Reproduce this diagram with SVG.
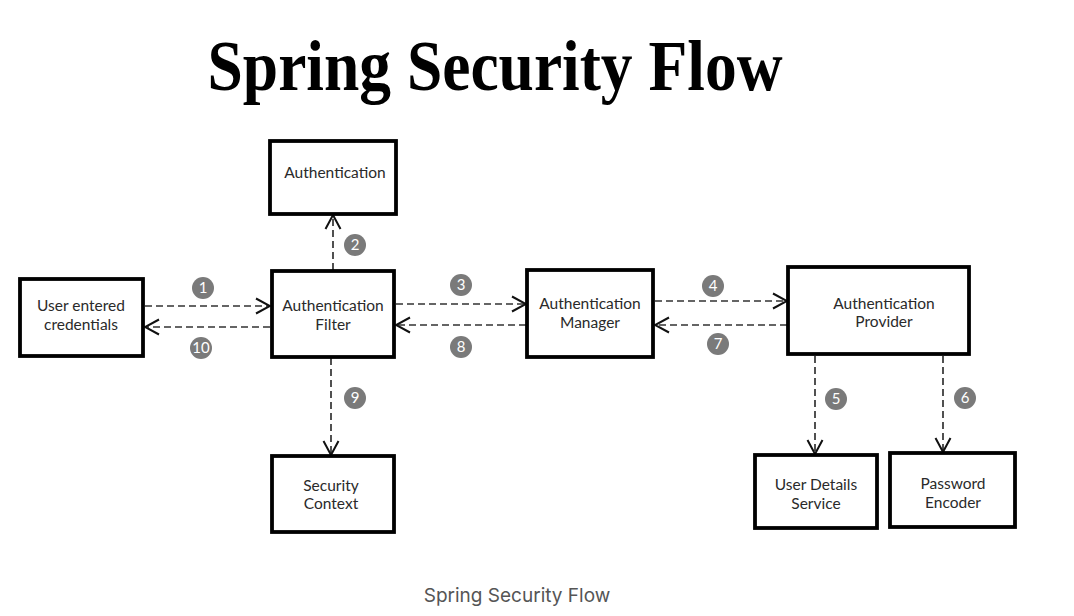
<svg xmlns="http://www.w3.org/2000/svg" width="1074" height="616" viewBox="0 0 1074 616">
<style>
.box{fill:#fff;stroke:#000;stroke-width:3.8}
.lbl{font-family:Lato,"Open Sans",sans-serif;font-size:15.5px;fill:#2a2a2a;text-anchor:middle}
.cn{stroke:#333;stroke-width:1.7;stroke-dasharray:7 4;fill:none}
.num circle{fill:#7a7a7a}
.num text{font-family:Lato,"Open Sans",sans-serif;font-size:15px;fill:#fff;text-anchor:middle}
</style>
<defs>
<marker id="ah" viewBox="0 0 16 18" refX="15" refY="9" markerWidth="16" markerHeight="18" markerUnits="userSpaceOnUse" orient="auto">
<path d="M1,1.5 L15,9 L1,16.5" fill="none" stroke="#111" stroke-width="2"/>
</marker>
</defs>
<rect width="1074" height="616" fill="#fff"/>
<text x="495" y="90" font-family="Liberation Serif,serif" font-weight="bold" font-size="72" text-anchor="middle" textLength="575" lengthAdjust="spacingAndGlyphs" fill="#000">Spring Security Flow</text>

<g id="connectors">
<line class="cn" x1="145" y1="306" x2="270" y2="306" marker-end="url(#ah)"/>
<line class="cn" x1="270" y1="327" x2="145" y2="327" marker-end="url(#ah)"/>
<line class="cn" x1="396" y1="304" x2="526" y2="304" marker-end="url(#ah)"/>
<line class="cn" x1="526" y1="325" x2="396" y2="325" marker-end="url(#ah)"/>
<line class="cn" x1="655" y1="301" x2="787" y2="301" marker-end="url(#ah)"/>
<line class="cn" x1="787" y1="325" x2="655" y2="325" marker-end="url(#ah)"/>
<line class="cn" x1="333" y1="270" x2="333" y2="215" marker-end="url(#ah)"/>
<line class="cn" x1="331" y1="358" x2="331" y2="455" marker-end="url(#ah)"/>
<line class="cn" x1="815" y1="356" x2="815" y2="454" marker-end="url(#ah)"/>
<line class="cn" x1="943" y1="356" x2="943" y2="452" marker-end="url(#ah)"/>
<g class="num">
<circle cx="203" cy="288" r="11"/><text x="203" y="293">1</text>
<circle cx="201" cy="348" r="11"/><text x="201" y="353">10</text>
<circle cx="461" cy="285" r="11"/><text x="461" y="290">3</text>
<circle cx="461" cy="347" r="11"/><text x="461" y="352">8</text>
<circle cx="713" cy="286" r="11"/><text x="713" y="291">4</text>
<circle cx="718" cy="344" r="11"/><text x="718" y="349">7</text>
<circle cx="355" cy="245" r="11"/><text x="355" y="250">2</text>
<circle cx="355" cy="398" r="11"/><text x="355" y="403">9</text>
<circle cx="836" cy="399" r="11"/><text x="836" y="404">5</text>
<circle cx="965" cy="398" r="11"/><text x="965" y="403">6</text>
</g>
</g>

<g id="authentication"><rect class="box" x="270" y="141" width="126" height="73"/><text class="lbl" x="335" y="178">Authentication</text></g>
<g id="user-credentials"><rect class="box" x="20" y="279" width="123" height="77"/><text class="lbl" x="81" y="311">User entered</text><text class="lbl" x="81" y="330">credentials</text></g>
<g id="auth-filter"><rect class="box" x="272" y="271" width="122" height="86"/><text class="lbl" x="333" y="311">Authentication</text><text class="lbl" x="333" y="330">Filter</text></g>
<g id="auth-manager"><rect class="box" x="527" y="270" width="126" height="87"/><text class="lbl" x="590" y="309">Authentication</text><text class="lbl" x="590" y="328">Manager</text></g>
<g id="auth-provider"><rect class="box" x="788" y="267" width="181" height="87"/><text class="lbl" x="884" y="309">Authentication</text><text class="lbl" x="884" y="327">Provider</text></g>
<g id="security-context"><rect class="box" x="272" y="456" width="122" height="76"/><text class="lbl" x="331" y="491">Security</text><text class="lbl" x="331" y="509">Context</text></g>
<g id="user-details-service"><rect class="box" x="755" y="455" width="122" height="73"/><text class="lbl" x="816" y="490">User Details</text><text class="lbl" x="816" y="509">Service</text></g>
<g id="password-encoder"><rect class="box" x="890" y="453" width="125" height="74"/><text class="lbl" x="953" y="489">Password</text><text class="lbl" x="953" y="508">Encoder</text></g>

<text x="517" y="602" font-family="Inter,'Open Sans',sans-serif" font-size="19" fill="#555" text-anchor="middle">Spring Security Flow</text>
</svg>
